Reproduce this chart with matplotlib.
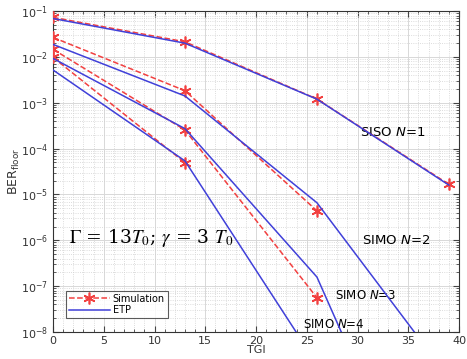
import numpy as np
import matplotlib
matplotlib.use("Agg")
import matplotlib.pyplot as plt
from matplotlib.ticker import MultipleLocator, LogLocator, NullFormatter

# data
tgi = [0, 13, 26, 39]

sim_siso = [0.073, 0.0214, 1.21e-3, 1.66e-5]
sim_n2 = [0.0267, 1.84e-3, 4.4e-6]
sim_n3 = [0.0147, 2.55e-4, 5.6e-8]
sim_n4 = [0.0098, 4.95e-5]

etp_siso = [0.069, 0.020, 1.2e-3, 1.6e-5]
etp_n2 = [0.0188, 1.41e-3, 6.6e-6, 1.0e-9]
etp_n3 = [0.0093, 2.73e-4, 1.58e-7, 5e-14]
etp_n4 = [0.0052, 5.4e-5, 2.0e-9]

red = (0.95, 0.25, 0.25)
blue = (0.25, 0.25, 0.85)

fig = plt.figure(figsize=(4.67, 3.59), dpi=100)
ax = fig.add_axes([0.1135, 0.0752, 0.8695, 0.8938])

sims = [sim_siso, sim_n2, sim_n3, sim_n4]
etps = [etp_siso, etp_n2, etp_n3, etp_n4]

for i, s in enumerate(sims):
    ax.plot(tgi[:len(s)], s, '--', color=red, lw=1.1, marker=(6, 2, 0), ms=8.5,
            mew=1.2, mec=red, label='Simulation' if i == 0 else None, zorder=3)
for i, e in enumerate(etps):
    ax.plot(tgi[:len(e)], e, '-', color=blue, lw=1.1,
            label='ETP' if i == 0 else None, zorder=4)

ax.set_yscale('log')
ax.set_xlim(0, 40)
ax.set_ylim(1e-8, 1e-1)
ax.xaxis.set_major_locator(MultipleLocator(5))
ax.xaxis.set_minor_locator(MultipleLocator(1))
ax.yaxis.set_major_locator(LogLocator(base=10, numticks=20))
ax.yaxis.set_minor_locator(LogLocator(base=10, subs=np.arange(2, 10), numticks=20))
ax.yaxis.set_minor_formatter(NullFormatter())

ax.grid(True, which='major', color='#d8d8d8', lw=0.7, ls='-')
ax.grid(True, which='minor', color='#d0d0d0', lw=0.6, ls=':')
ax.set_axisbelow(True)
ax.tick_params(which='both', direction='in', top=True, right=True,
               labelsize=8, labelcolor='#333333', color='#444444')
ax.tick_params(which='major', length=4)
ax.tick_params(which='minor', length=2)
ax.tick_params(axis='x', pad=3)
for sp in ax.spines.values():
    sp.set_color('#333333')
    sp.set_linewidth(0.8)

ax.set_xlabel('TGI', fontsize=8, color='#333333', labelpad=-1)
ax.set_ylabel(r'BER$_{\mathrm{floor}}$', fontsize=9, color='#333333', labelpad=-1)

ax.text(30.2, 2.2e-4, r'SISO $N$=1', fontsize=9.5, va='center')
ax.text(30.4, 1.0e-6, r'SIMO $N$=2', fontsize=9.5, va='center')
ax.text(27.8, 6.4e-8, r'SIMO $N$=3', fontsize=8.5, va='center')
ax.text(24.6, 1.45e-8, r'SIMO $N$=4', fontsize=8.5, va='center')

ax.text(1.6, 1.1e-6, r'$\Gamma$ = 13$T_0$; $\gamma$ = 3 $T_0$', fontsize=13.5,
        family='DejaVu Serif', math_fontfamily='stix', va='center')

leg = ax.legend(loc='lower left', bbox_to_anchor=(0.032, 0.044), fontsize=7,
                frameon=True, fancybox=False, edgecolor='#333333',
                borderpad=0.3, labelspacing=0.15, handlelength=4.2,
                handletextpad=0.3, borderaxespad=0)
leg.get_frame().set_linewidth(0.8)

fig.savefig('out.png', dpi=100)
